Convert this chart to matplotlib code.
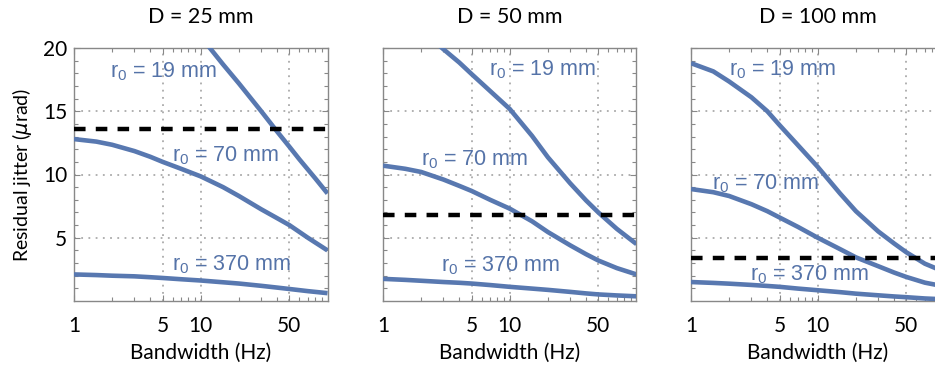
import numpy as np
import matplotlib.pyplot as plt
from matplotlib.ticker import FixedLocator, NullFormatter

plt.rcParams['font.family'] = ['Lato', 'DejaVu Sans']
plt.rcParams['mathtext.fontset'] = 'dejavusans'

# bandwidth grid (Hz)
freq = [1, 1.5, 2, 3, 4, 5, 7, 10, 15, 20, 30, 40, 50, 70, 100]

# D = 25 mm
f19_d25 = [10, 15, 20, 30, 40, 50, 60, 80, 100]
j19_d25 = [20.9, 18.7, 17.2, 15.0, 13.4, 12.2, 11.2, 9.7, 8.5]
j70_d25 = [12.8, 12.6, 12.35, 11.85, 11.4, 11.0, 10.45, 9.85, 9.0, 8.3, 7.25, 6.55, 6.0, 5.0, 4.0]
j370_d25 = [2.1, 2.05, 2.0, 1.95, 1.88, 1.82, 1.72, 1.62, 1.48, 1.38, 1.2, 1.06, 0.95, 0.78, 0.62]

# D = 50 mm
f19_d50 = [2.5, 3, 4, 5, 7, 10, 15, 20, 30, 40, 50, 70, 100]
j19_d50 = [20.6, 19.9, 18.85, 17.94, 16.6, 15.18, 13.05, 11.36, 9.3, 7.95, 7.0, 5.7, 4.5]
j70_d50 = [10.7, 10.45, 10.2, 9.6, 9.1, 8.7, 8.0, 7.3, 6.3, 5.45, 4.4, 3.7, 3.2, 2.6, 2.1]
j370_d50 = [1.75, 1.67, 1.6, 1.5, 1.44, 1.38, 1.26, 1.12, 0.98, 0.88, 0.72, 0.6, 0.52, 0.44, 0.37]

# D = 100 mm
j19_d100 = [18.8, 18.15, 17.35, 16.1, 15.0, 13.9, 12.3, 10.6, 8.5, 7.1, 5.5, 4.55, 3.85, 2.95, 2.3]
j70_d100 = [8.85, 8.6, 8.3, 7.65, 7.1, 6.6, 5.85, 5.0, 4.1, 3.45, 2.75, 2.25, 1.9, 1.45, 1.15]
j370_d100 = [1.5, 1.43, 1.37, 1.27, 1.19, 1.12, 0.98, 0.85, 0.7, 0.58, 0.45, 0.36, 0.3, 0.2, 0.13]

# requirement level for each aperture
req = [13.6, 6.8, 3.4]
titles = ['D = 25 mm', 'D = 50 mm', 'D = 100 mm']

panels = [
    [(f19_d25, j19_d25), (freq, j70_d25), (freq, j370_d25)],
    [(f19_d50, j19_d50), (freq, j70_d50), (freq, j370_d50)],
    [(freq, j19_d100), (freq, j70_d100), (freq, j370_d100)],
]
r0_labels = ['19 mm', '70 mm', '370 mm']
# label anchor (freq, jitter) per panel
label_pos = [
    [(1.92, 18.1), (5.9, 11.5), (5.9, 2.9)],
    [(6.9, 18.3), (1.98, 11.2), (2.85, 2.8)],
    [(1.98, 18.3), (1.46, 9.25), (2.94, 2.1)],
]

blue = '#5878B0'
lblue = '#5573A8'
gray = '#888888'

fig = plt.figure(figsize=(9.35, 3.73), dpi=100)
lefts = [74 / 935, 383 / 935, 691 / 935]
for i in range(3):
    ax = fig.add_axes([lefts[i], 1 - 301 / 373, 253.5 / 935, 253 / 373])
    for (fx, jy) in panels[i]:
        ax.plot(fx, jy, color=blue, lw=3.3, solid_capstyle='butt', zorder=3)
    ax.axhline(req[i], color='black', lw=3.2, dashes=(2.6, 2.3), zorder=4)
    for k, (px, py) in enumerate(label_pos[i]):
        ax.text(px, py, r'r$\mathregular{_0}$ = ' + r0_labels[k], color=lblue,
                fontsize=15.5, family='Liberation Sans', ha='left', va='center', zorder=5)

    ax.set_xscale('log')
    ax.set_xlim(1, 100)
    ax.set_ylim(0, 20)
    ax.xaxis.set_major_locator(FixedLocator([1, 5, 10, 50]))
    ax.set_xticklabels(['1', '5', '10', '50'])
    ax.xaxis.set_minor_locator(FixedLocator([2, 3, 4, 6, 7, 8, 9, 20, 30, 40, 60, 70, 80, 90]))
    ax.xaxis.set_minor_formatter(NullFormatter())
    ax.yaxis.set_major_locator(FixedLocator([5, 10, 15, 20]))
    ax.yaxis.set_minor_locator(FixedLocator(np.arange(1, 20)))
    if i > 0:
        ax.set_yticklabels([])
    else:
        ax.set_ylabel(r'Residual jitter ($\mu$rad)', fontsize=14, labelpad=6)

    ax.tick_params(which='both', direction='in', top=True, right=True, color=gray, width=0.8)
    ax.tick_params(which='major', length=4.5, labelsize=15)
    ax.tick_params(which='minor', length=3)
    ax.tick_params(axis='x', which='major', pad=11)
    ax.tick_params(axis='y', which='major', pad=5)
    for sp in ax.spines.values():
        sp.set_color(gray)
        sp.set_linewidth(1.0)

    ax.grid(True, which='major', color='#AAAAAA', lw=1.3, linestyle=(0, (1, 3)))
    ax.set_xlabel('Bandwidth (Hz)', fontsize=15, labelpad=5)
    ax.set_title(titles[i], fontsize=15.5, pad=18)

fig.savefig('out.png', dpi=100)
